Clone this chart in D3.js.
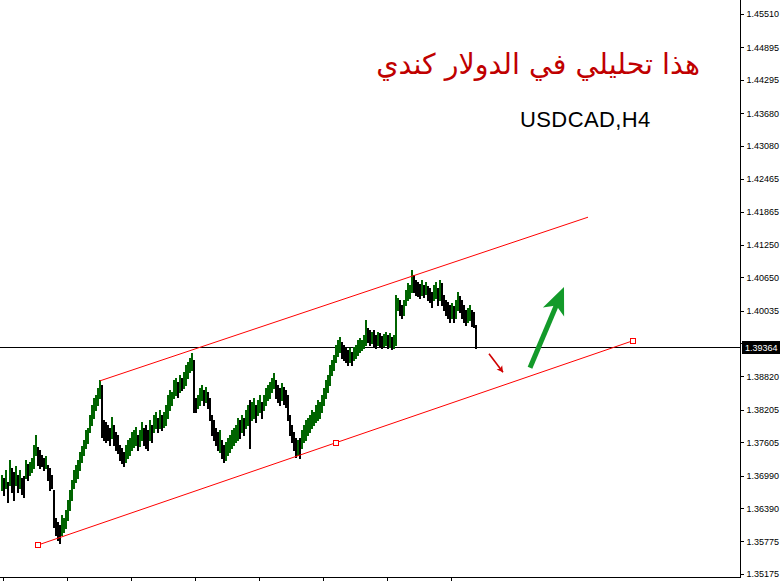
<!DOCTYPE html>
<meta charset="utf-8">
<style>
  body { margin: 0; background: #fff; }
  .axis text { font-family: 'Liberation Sans', Arial, sans-serif; font-size: 9px; fill: #000; }
  .axis line, .axis path { stroke: #000; shape-rendering: crispEdges; }
</style>
<body>
<div id="chart"></div>
<script src="https://d3js.org/d3.v7.min.js"></script>
<script>
// H4 bars, oldest first
const highs = [1.3700,1.3695,1.3709,1.3687,1.3728,1.3713,1.3706,1.3717,1.3700,1.3709,
  1.3695,1.3698,1.3728,1.3721,1.3724,1.3732,1.3756,1.3774,1.3752,1.3746,
  1.3737,1.3732,1.3735,1.3719,1.3713,1.3700,1.3673,1.3621,1.3614,1.3608,
  1.3626,1.3621,1.3636,1.3654,1.3673,1.3691,1.3709,1.3719,1.3728,1.3743,
  1.3754,1.3765,1.3783,1.3787,1.3811,1.3829,1.3842,1.3848,1.3861,1.3876,
  1.3866,1.3802,1.3798,1.3792,1.3787,1.3807,1.3792,1.3779,1.3774,1.3756,
  1.3750,1.3743,1.3756,1.3765,1.3768,1.3779,1.3783,1.3789,1.3774,1.3783,
  1.3798,1.3787,1.3792,1.3783,1.3802,1.3792,1.3811,1.3816,1.3806,1.3820,
  1.3811,1.3816,1.3829,1.3848,1.3857,1.3853,1.3876,1.3879,1.3872,1.3885,
  1.3879,1.3890,1.3903,1.3909,1.3916,1.3925,1.3912,1.3842,1.3848,1.3861,
  1.3866,1.3857,1.3863,1.3853,1.3842,1.3811,1.3802,1.3787,1.3779,1.3783,
  1.3765,1.3756,1.3761,1.3768,1.3774,1.3783,1.3787,1.3792,1.3806,1.3802,
  1.3811,1.3806,1.3820,1.3829,1.3839,1.3835,1.3842,1.3829,1.3839,1.3848,
  1.3835,1.3848,1.3861,1.3866,1.3872,1.3879,1.3888,1.3876,1.3866,1.3861,
  1.3870,1.3863,1.3857,1.3848,1.3811,1.3792,1.3779,1.3768,1.3765,1.3768,
  1.3783,1.3792,1.3802,1.3806,1.3811,1.3820,1.3816,1.3829,1.3839,1.3835,
  1.3848,1.3861,1.3876,1.3885,1.3903,1.3912,1.3922,1.3940,1.3949,1.3955,
  1.3946,1.3940,1.3935,1.3931,1.3935,1.3927,1.3936,1.3940,1.3949,1.3953,
  1.3949,1.3959,1.3986,1.3972,1.3968,1.3964,1.3968,1.3959,1.3964,1.3962,
  1.3957,1.3960,1.3964,1.3959,1.3962,1.3955,1.3959,1.4032,1.4027,1.4023,
  1.4014,1.4023,1.4042,1.4055,1.4051,1.4079,1.4069,1.4060,1.4056,1.4053,
  1.4060,1.4051,1.4056,1.4049,1.4045,1.4038,1.4051,1.4056,1.4045,1.4060,
  1.4055,1.4032,1.4023,1.4019,1.4014,1.4018,1.4012,1.4023,1.4038,1.4031,
  1.4023,1.4014,1.4005,1.4008,1.4014,1.4005,1.4001,1.3977];
const lows = [1.3673,1.3663,1.3676,1.3650,1.3682,1.3669,1.3654,1.3682,1.3669,1.3676,
  1.3665,1.3660,1.3695,1.3691,1.3700,1.3706,1.3713,1.3737,1.3719,1.3713,
  1.3717,1.3709,1.3713,1.3691,1.3673,1.3676,1.3604,1.3590,1.3580,1.3574,
  1.3590,1.3595,1.3603,1.3617,1.3636,1.3654,1.3676,1.3687,1.3695,1.3709,
  1.3724,1.3737,1.3750,1.3759,1.3779,1.3792,1.3806,1.3820,1.3829,1.3842,
  1.3770,1.3765,1.3761,1.3765,1.3756,1.3768,1.3756,1.3746,1.3741,1.3728,
  1.3722,1.3717,1.3724,1.3732,1.3737,1.3746,1.3752,1.3756,1.3746,1.3754,
  1.3765,1.3756,1.3750,1.3746,1.3765,1.3761,1.3779,1.3787,1.3779,1.3787,
  1.3783,1.3789,1.3792,1.3806,1.3820,1.3829,1.3842,1.3848,1.3844,1.3853,
  1.3857,1.3861,1.3866,1.3879,1.3890,1.3894,1.3816,1.3816,1.3824,1.3829,
  1.3839,1.3829,1.3835,1.3824,1.3802,1.3774,1.3765,1.3756,1.3746,1.3743,
  1.3732,1.3724,1.3728,1.3737,1.3743,1.3750,1.3756,1.3761,1.3765,1.3768,
  1.3779,1.3774,1.3787,1.3792,1.3750,1.3802,1.3806,1.3798,1.3811,1.3816,
  1.3806,1.3820,1.3829,1.3839,1.3842,1.3853,1.3861,1.3842,1.3835,1.3829,
  1.3839,1.3831,1.3826,1.3802,1.3774,1.3761,1.3746,1.3734,1.3737,1.3732,
  1.3750,1.3761,1.3765,1.3774,1.3779,1.3787,1.3792,1.3798,1.3802,1.3806,
  1.3816,1.3829,1.3842,1.3853,1.3866,1.3885,1.3894,1.3909,1.3920,1.3927,
  1.3916,1.3912,1.3909,1.3903,1.3909,1.3903,1.3912,1.3916,1.3922,1.3927,
  1.3931,1.3935,1.3940,1.3946,1.3940,1.3944,1.3938,1.3935,1.3940,1.3936,
  1.3935,1.3938,1.3940,1.3935,1.3936,1.3933,1.3935,1.3940,1.4005,1.3995,
  1.3990,1.3995,1.4014,1.4023,1.4027,1.4038,1.4038,1.4032,1.4031,1.4027,
  1.4032,1.4029,1.4034,1.4023,1.4019,1.4010,1.4023,1.4027,1.4014,1.4023,
  1.4014,1.4005,1.3995,1.3990,1.3983,1.3990,1.3983,1.3990,1.4005,1.4001,
  1.3990,1.3983,1.3977,1.3983,1.3986,1.3975,1.3973,1.3934];

const priceTicks = [1.45510, 1.44895, 1.44295, 1.43680, 1.43080, 1.42465, 1.41865, 1.41250, 1.40650,
  1.40035, 1.39435, 1.38820, 1.38205, 1.37605, 1.36990, 1.36390, 1.35775, 1.35175];
const timeTicks = [1, 33, 65, 97, 129, 161, 193, 225];   // bar index of each time mark
const lastPrice = 1.39364;

// drawn objects: [bar index, price]
const upperChannel = [[49.5, 1.3874], [293.5, 1.4176]];
const lowerChannel = [[18.5, 1.3571], [316, 1.3948]];
const redArrow = [[244, 1.3924], [251, 1.3890]];
const greenArrow = [[264.5, 1.3898], [281.5, 1.4047]];

const title = "هذا تحليلي في الدولار كندي";
const symbol = "USDCAD,H4";

var width = 780, height = 581;
var plotRight = 740, plotBottom = 577;

var svg = d3.select("#chart").append("svg")
  .attr("width", width)
  .attr("height", height);

var x = d3.scaleLinear().domain([0, 369]).range([1, 739]);
var y = d3.scaleLinear().domain([1.35175, 1.45510]).range([574, 14]);

// current price line (behind the bars)
svg.append("line")
  .attr("x1", 0).attr("x2", plotRight)
  .attr("y1", Math.round(y(lastPrice)) + 0.5).attr("y2", Math.round(y(lastPrice)) + 0.5)
  .attr("stroke", "#000").attr("shape-rendering", "crispEdges");

// bars (2px wide at this zoom)
var bars = highs.map((h, i) => ({ i: i, high: h, low: lows[i] }));
function barColor(d) {
  if (d.i === 0) return "#006400";
  var prev = bars[d.i - 1];
  return (d.high + d.low) >= (prev.high + prev.low) ? "#006400" : "#000";
}
svg.append("g").selectAll("rect")
  .data(bars)
  .enter().append("rect")
  .attr("x", d => Math.round(x(d.i)))
  .attr("y", d => Math.round(y(d.high)))
  .attr("width", 2)
  .attr("height", d => Math.round(y(d.low)) - Math.round(y(d.high)) + 1)
  .attr("fill", barColor)
  .attr("shape-rendering", "crispEdges");

// channel lines
var lineGen = d3.line().x(d => x(d[0])).y(d => y(d[1]));
[upperChannel, lowerChannel].forEach(pts => {
  svg.append("path")
    .attr("d", lineGen(pts))
    .attr("fill", "none")
    .attr("stroke", "#ff0000")
    .attr("stroke-width", 1);
});

// selection squares on the lower line
var mid = [(lowerChannel[0][0] + lowerChannel[1][0]) / 2, (lowerChannel[0][1] + lowerChannel[1][1]) / 2];
[lowerChannel[0], mid, lowerChannel[1]].forEach(p => {
  svg.append("rect")
    .attr("x", Math.round(x(p[0])) - 2.5).attr("y", Math.round(y(p[1])) - 2.5)
    .attr("width", 5).attr("height", 5)
    .attr("fill", "#fff").attr("stroke", "#ff0000");
});

// small red arrow
var r0 = [x(redArrow[0][0]), y(redArrow[0][1])], r1 = [x(redArrow[1][0]), y(redArrow[1][1])];
svg.append("line")
  .attr("x1", r0[0]).attr("y1", r0[1]).attr("x2", r1[0]).attr("y2", r1[1])
  .attr("stroke", "#d00000").attr("stroke-width", 1.6);
function head(p0, p1, len, half, notch) {
  var dx = p1[0] - p0[0], dy = p1[1] - p0[1], L = Math.hypot(dx, dy);
  var ux = dx / L, uy = dy / L, nx = -uy, ny = ux;
  var bx = p1[0] - ux * len, by = p1[1] - uy * len;
  return [
    [p1[0], p1[1]],
    [bx + nx * half, by + ny * half],
    [p1[0] - ux * (len - notch), p1[1] - uy * (len - notch)],
    [bx - nx * half, by - ny * half]
  ];
}
svg.append("polygon")
  .attr("points", head(r0, r1, 6, 3.5, 1.5).join(" "))
  .attr("fill", "#d00000");

// big green arrow
var g0 = [x(greenArrow[0][0]), y(greenArrow[0][1])], g1 = [x(greenArrow[1][0]), y(greenArrow[1][1])];
var gl = Math.hypot(g1[0] - g0[0], g1[1] - g0[1]);
svg.append("line")
  .attr("x1", g0[0]).attr("y1", g0[1])
  .attr("x2", g0[0] + (g1[0] - g0[0]) * (gl - 18) / gl)
  .attr("y2", g0[1] + (g1[1] - g0[1]) * (gl - 18) / gl)
  .attr("stroke", "#139a2a").attr("stroke-width", 5);
svg.append("polygon")
  .attr("points", head(g0, g1, 27, 11.5, 7).join(" "))
  .attr("fill", "#139a2a");

// texts
svg.append("text")
  .attr("x", 700).attr("y", 74)
  .attr("text-anchor", "end")
  .style("font-family", "'DejaVu Sans', 'Noto Sans', sans-serif")
  .style("font-size", "28.5px")
  .style("fill", "#c00000")
  .text(title);

svg.append("text")
  .attr("x", 520).attr("y", 127)
  .style("font-family", "'Liberation Sans', Arial, sans-serif")
  .style("font-size", "22px")
  .style("letter-spacing", "0.4px")
  .style("fill", "#000")
  .text(symbol);

// price axis
var yAxis = d3.axisRight(y)
  .tickValues(priceTicks)
  .tickFormat(d3.format(".5f"))
  .tickSize(3)
  .tickPadding(3);
var ya = svg.append("g")
  .attr("class", "axis")
  .attr("transform", `translate(${plotRight + 0.5},0)`)
  .call(yAxis);
ya.select(".domain").remove();
svg.append("line")
  .attr("x1", plotRight + 0.5).attr("x2", plotRight + 0.5)
  .attr("y1", 0).attr("y2", plotBottom + 1)
  .attr("stroke", "#000").attr("shape-rendering", "crispEdges");

// time axis
var xAxis = d3.axisBottom(x)
  .tickValues(timeTicks)
  .tickFormat("")
  .tickSize(5)
  .tickSizeOuter(0);
var xa = svg.append("g")
  .attr("class", "axis")
  .attr("transform", `translate(0,${plotBottom + 0.5})`)
  .call(xAxis);
xa.select(".domain").remove();
svg.append("line")
  .attr("x1", 0).attr("x2", plotRight + 1)
  .attr("y1", plotBottom + 0.5).attr("y2", plotBottom + 0.5)
  .attr("stroke", "#000").attr("shape-rendering", "crispEdges");

// last price label
var ly = Math.round(y(lastPrice));
svg.append("rect")
  .attr("x", plotRight + 2).attr("y", ly - 6)
  .attr("width", 38).attr("height", 13)
  .attr("fill", "#000");
svg.append("text")
  .attr("x", plotRight + 5).attr("y", ly + 4)
  .style("font-family", "'Liberation Sans', Arial, sans-serif")
  .style("font-size", "9px")
  .style("fill", "#fff")
  .text(d3.format(".5f")(lastPrice));
</script>
</body>
